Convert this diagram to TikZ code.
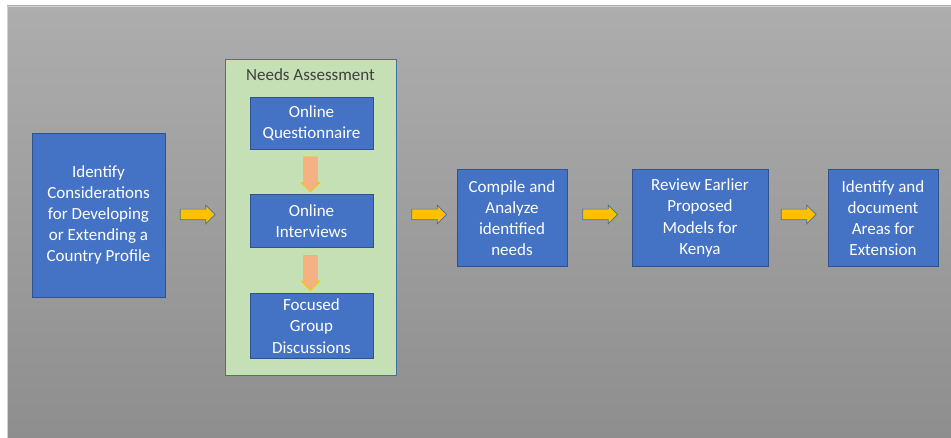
\documentclass[tikz,border=0pt]{standalone}
\usepackage{fontspec}
\setmainfont{Carlito}
\usetikzlibrary{shapes.arrows,calc}
\definecolor{boxblue}{HTML}{4472C4}
\definecolor{boxedge}{HTML}{2F528F}
\definecolor{panelgreen}{HTML}{C5E0B4}
\definecolor{paneledge}{HTML}{41719C}
\definecolor{arrowgold}{HTML}{FFC000}
\definecolor{arrowpeach}{HTML}{F4B183}
\definecolor{bgtop}{HTML}{ADADAD}
\definecolor{bgbottom}{HTML}{8E8E8E}
\definecolor{titlegray}{HTML}{404040}
\newcommand{\shaft}[1]{\rule{0pt}{#1}}
\tikzset{
  stepbox/.style={rectangle, fill=boxblue, draw=boxedge, line width=0.9pt,
    text=white, align=center, inner sep=2pt,
    font=\fontsize{17}{21.2}\selectfont},
  panel/.style={rectangle, fill=panelgreen, draw=paneledge, line width=0.9pt},
  flowarrow/.style={single arrow, fill=arrowgold, draw=paneledge, line width=0.7pt,
    minimum height=35pt, single arrow head extend=4pt, inner sep=0pt},
  downarrow/.style={single arrow, fill=arrowpeach, draw=arrowgold, line width=0.7pt,
    minimum height=35pt, single arrow head extend=2.5pt, inner sep=0pt, rotate=-90},
}
\begin{document}
\begin{tikzpicture}[x=1pt,y=-1pt]
  % canvas and gradient backdrop
  \useasboundingbox (0,0) rectangle (951,438);
  \fill[white] (0,0) rectangle (951,438);
  \shade[top color=bgtop, bottom color=bgbottom] (7,6) rectangle (951,438);
  \draw[gray!35, line width=0.8pt] (7,438) -- (7,6) -- (951,6);

  % first step
  \node[stepbox, minimum width=133pt, minimum height=164pt] (b1) at (98.5,215)
    {Identify\\Considerations\\for Developing\\or Extending a\\Country Profile};

  % needs assessment panel with its three activities
  \node[panel, minimum width=171pt, minimum height=316pt] (ga) at (310.5,217) {};
  \node[text=titlegray, font=\fontsize{17}{21}\selectfont] (gt) at (310.5,75) {Needs Assessment};
  \node[stepbox, minimum width=123pt, minimum height=52pt] (q1) at (311.5,123.5)
    {Online\\Questionnaire};
  \node[stepbox, minimum width=123pt, minimum height=53pt] (q2) at (311.5,221)
    {Online\\Interviews};
  \node[stepbox, minimum width=123pt, minimum height=65pt] (q3) at (311.5,326)
    {Focused\\Group\\Discussions};

  % remaining steps
  \node[stepbox, minimum width=110pt, minimum height=97pt] (b3) at (512,218)
    {Compile and\\Analyze\\identified\\needs};
  \node[stepbox, minimum width=136pt, minimum height=97pt] (b4) at (700,218)
    {Review Earlier\\Proposed\\Models for\\Kenya};
  \node[stepbox, minimum width=110pt, minimum height=97pt] (b5) at (883,218)
    {Identify and\\document\\Areas for\\Extension};

  % connectors between steps
  \coordinate (m1) at ($(b1.east)!0.5!(ga.west)$);
  \coordinate (m2) at ($(ga.east)!0.5!(b3.west)$);
  \coordinate (m3) at ($(b3.east)!0.5!(b4.west)$);
  \coordinate (m4) at ($(b4.east)!0.5!(b5.west)$);
  \coordinate (ay) at (0,214.5);
  \node[flowarrow] (a1) at (m1 |- ay) {\shaft{10pt}};
  \node[flowarrow] (a2) at (m2 |- ay) {\shaft{10pt}};
  \node[flowarrow] (a3) at ($(m3 |- ay)+(-2,0)$) {\shaft{10pt}};
  \node[flowarrow] (a4) at ($(m4 |- ay)+(-2,0)$) {\shaft{10pt}};

  % connectors inside the panel
  \node[downarrow] (d1) at ($(q1.south)!0.5!(q2.north)+(-1,-1)$) {\shaft{13pt}};
  \node[downarrow] (d2) at ($(q2.south)!0.5!(q3.north)+(-1,-1)$) {\shaft{13pt}};
\end{tikzpicture}
\end{document}
